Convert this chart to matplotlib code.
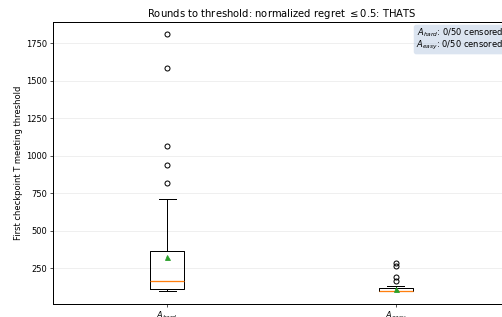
import numpy as np
import matplotlib
matplotlib.use('Agg')
import matplotlib.pyplot as plt

# ============ #
# === Data === #
# ============ #

labels = [r'$A_{hard}$', r'$A_{easy}$']

# box statistics
medians  = [167, 100]
q1s      = [110, 100]
q3s      = [367, 118]
whislos  = [97, 100]
whishis  = [713, 130]
means    = [327, 112]
fliers_hard = [822, 940, 1069, 1585, 1813]
fliers_easy = [165, 195, 265, 285]

censored = [0, 0]
n_runs   = [50, 50]

# ================ #
# === Plotting === #
# ================ #

DPI = 60
fig = plt.figure(figsize=(502/DPI, 317/DPI), dpi=DPI)
ax = fig.add_axes([53/502, 13/317, 457/502, 282/317])

stats = []
for i, lab in enumerate(labels):
    stats.append({
        'label': lab,
        'med': medians[i],
        'q1': q1s[i],
        'q3': q3s[i],
        'whislo': whislos[i],
        'whishi': whishis[i],
        'mean': means[i],
        'fliers': np.array([fliers_hard, fliers_easy][i]),
    })

lw = 1.2
ax.bxp(stats, showmeans=True,
       boxprops=dict(linewidth=lw), whiskerprops=dict(linewidth=lw),
       capprops=dict(linewidth=lw), medianprops=dict(linewidth=lw*1.3, color='C1'),
       flierprops=dict(markeredgewidth=lw))
ax.set_ylim(12, 1893)
ax.grid(axis='y', alpha=0.3)
ax.set_axisbelow(True)
for s in ax.spines.values():
    s.set_linewidth(1.2)

ax.set_ylabel('First checkpoint T meeting threshold')
ax.set_title(r'Rounds to threshold: normalized regret $\leq 0.5$: THATS')

txt = '\n'.join(f'{lab}: {c}/{n} censored' for lab, c, n in zip(labels, censored, n_runs))
ax.text(0.985, 0.985, txt, transform=ax.transAxes, ha='right', va='top', fontsize=10,
        linespacing=1.0,
        bbox=dict(boxstyle='round', facecolor='lightsteelblue', alpha=0.45, edgecolor='none'))

fig.savefig('out.png', dpi=DPI)
